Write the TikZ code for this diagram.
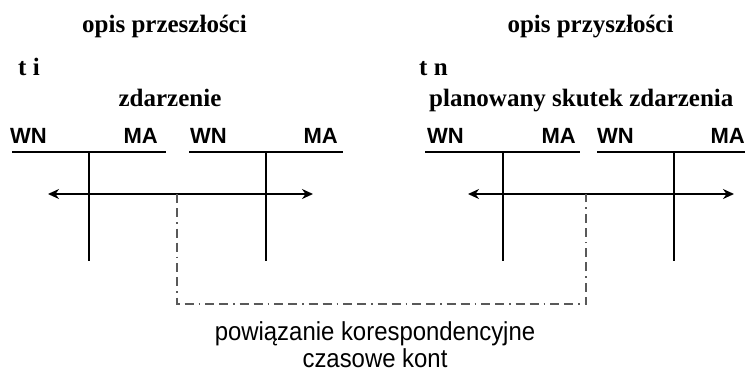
\documentclass[tikz,border=0pt]{standalone}
\usepackage{fontspec}
\setmainfont{Liberation Serif}
\newfontfamily\arialfont{Liberation Sans}
\newfontfamily\narrowfont[FakeStretch=0.92]{Liberation Sans}
\usepackage{tikz}
\usetikzlibrary{arrows.meta}
\tikzstyle{arrow} = [{Stealth[length=11pt,width=10pt]}-{Stealth[length=11pt,width=10pt]},line width=2.2pt]
\tikzstyle{head} = [inner sep=0pt,font=\fontsize{25}{30}\selectfont\bfseries]
\tikzstyle{side} = [inner sep=0pt,font=\fontsize{22}{26}\selectfont\arialfont\bfseries]
\tikzstyle{konto} = [line width=1.6pt]
\tikzstyle{link} = [gray!70!black,line width=1.5pt,dash pattern=on 9pt off 5pt on 9pt off 5pt on 1.5pt off 5pt]

\begin{document}
\begin{tikzpicture}[x=1pt,y=-1pt]
        \useasboundingbox (0,0) rectangle (745,378);

        % naglowki
        \node[head, anchor=base] at (164.5,32) (past) {opis przeszłości};
        \node[head, anchor=base] at (590.5,32) (future) {opis przyszłości};
        \node[head, anchor=base west] at (18,75) (ti) {t i};
        \node[head, anchor=base west] at (419,75) (tn) {t n};
        \node[head, anchor=base] at (170,106) (event) {zdarzenie};
        \node[head, anchor=base west] at (429,106) (effect) {planowany skutek zdarzenia};

        % konta teowe
        \node[side, anchor=base west] at (10,143) (wn1) {WN};
        \node[side, anchor=base east] at (158,143) (ma1) {MA};
        \node[side, anchor=base west] at (190,143) (wn2) {WN};
        \node[side, anchor=base east] at (338,143) (ma2) {MA};
        \node[side, anchor=base west] at (427,143) (wn3) {WN};
        \node[side, anchor=base east] at (576,143) (ma3) {MA};
        \node[side, anchor=base west] at (597,143) (wn4) {WN};
        \node[side, anchor=base east] at (745,143) (ma4) {MA};

        \coordinate (a1l) at (12,152);  \coordinate (a1r) at (166,152);
        \coordinate (a2l) at (189,152); \coordinate (a2r) at (343,152);
        \coordinate (a3l) at (425,152); \coordinate (a3r) at (580,152);
        \coordinate (a4l) at (597,152); \coordinate (a4r) at (745,152);
        \coordinate (a1t) at (89,152);  \coordinate (a1b) at (89,261);
        \coordinate (a2t) at (266,152); \coordinate (a2b) at (266,261);
        \coordinate (a3t) at (503,152); \coordinate (a3b) at (503,261);
        \coordinate (a4t) at (674,152); \coordinate (a4b) at (674,261);

        \draw[konto] (a1l) -- (a1r);
        \draw[konto] (a2l) -- (a2r);
        \draw[konto] (a3l) -- (a3r);
        \draw[konto] (a4l) -- (a4r);
        \draw[konto] (a1t) -- (a1b);
        \draw[konto] (a2t) -- (a2b);
        \draw[konto] (a3t) -- (a3b);
        \draw[konto] (a4t) -- (a4b);

        % osie czasu
        \coordinate (t1l) at (48,194);  \coordinate (t1r) at (313,194);
        \coordinate (t2l) at (468,194); \coordinate (t2r) at (734,194);
        \draw[arrow] (t1l) -- (t1r);
        \draw[arrow] (t2l) -- (t2r);

        % powiazanie
        \coordinate (p1) at (177,194);
        \coordinate (p2) at (586,194);
        \draw[link] (p1) -- (177,304) -- (586,304) -- (p2);

        \node[inner sep=0pt, anchor=base, align=center, font=\fontsize{26}{27}\selectfont\narrowfont] at (375,367) (note) {powiązanie korespondencyjne\\czasowe kont};

      \end{tikzpicture}
\end{document}
